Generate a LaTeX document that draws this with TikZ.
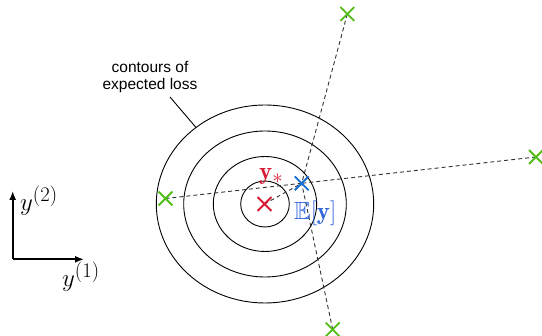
\documentclass[tikz,border=0pt]{standalone}
\usepackage{fontspec}
\usepackage{amssymb}
\newfontfamily\labelfont{Liberation Sans}
\usetikzlibrary{arrows.meta,shapes.misc}
\definecolor{xgreen}{RGB}{80,190,20}
\definecolor{xred}{RGB}{215,25,50}
\definecolor{xblue}{RGB}{20,110,210}
\definecolor{tblue}{RGB}{50,100,220}
\begin{document}
\begin{tikzpicture}[x=1pt,y=-1pt,
  xmark/.style={cross out,draw,minimum size=12pt,inner sep=0pt,line width=1.8pt},
  greenmark/.style={xmark,draw=xgreen},
  contour/.style={draw=black,line width=0.9pt},
  dashline/.style={draw=black!80,line width=0.9pt,dash pattern=on 4pt off 3pt},
  axis/.style={draw=black,line width=1.6pt,-{Latex[length=9pt,width=7pt]}},
  bigmath/.style={inner sep=0pt,font=\fontsize{24.88}{30}\selectfont}]
\useasboundingbox (0,0) rectangle (542,336);

% contours
\draw[contour] (265,204) ellipse [x radius=24.3pt, y radius=23pt];
\draw[contour] (265,204) ellipse [x radius=51.7pt, y radius=47.5pt];
\draw[contour] (265,204) ellipse [x radius=81.3pt, y radius=73pt];
\draw[contour] (265,204) ellipse [x radius=108.7pt, y radius=99pt];

% marker positions
\coordinate (g1) at (165.5,198.5);
\coordinate (g2) at (347.3,14);
\coordinate (g3) at (536,157);
\coordinate (g4) at (332.7,329.5);
\coordinate (r) at (264.5,204);
\coordinate (b) at (301.7,183.3);

% dashed connectors
\draw[dashline] (g1) -- (b);
\draw[dashline] (g2) -- (b);
\draw[dashline] (g3) -- (b);
\draw[dashline] (g4) -- (b);
\draw[dashline] (r) -- (b);

% markers
\node[greenmark] (m1) at (g1) {};
\node[greenmark] (m2) at (g2) {};
\node[greenmark] (m3) at (g3) {};
\node[greenmark] (m4) at (g4) {};
\node[xmark,draw=xred] (mr) at (r) {};
\node[xmark,draw=xblue] (mb) at (b) {};

% label and pointer
\node[align=center,inner sep=0pt,font=\labelfont\fontsize{15.5}{17.5}\selectfont] (lab) at (150,77) {contours of\\expected loss};
\coordinate (pstart) at (170,97);
\coordinate (pend) at (196,127.5);
\draw[black,line width=0.9pt] (pstart) -- (pend);

% math labels
\node[bigmath,anchor=base west,text=xred] (ystar) at (259,180) {$\mathbf{y}_*$};
\node[bigmath,anchor=base west,text=tblue] (ey) at (294,220) {$\mathbb{E}[\mathbf{y}]$};

% axes
\coordinate (o) at (12.7,259.3);
\coordinate (ay) at (12.7,191);
\coordinate (ax) at (84,259.3);
\draw[axis] (o) -- (ay);
\draw[axis] (o) -- (ax);
\node[bigmath,anchor=base west] (y2) at (20,211) {$y^{(2)}$};
\node[bigmath,anchor=base west] (y1) at (62,287) {$y^{(1)}$};
\end{tikzpicture}
\end{document}
